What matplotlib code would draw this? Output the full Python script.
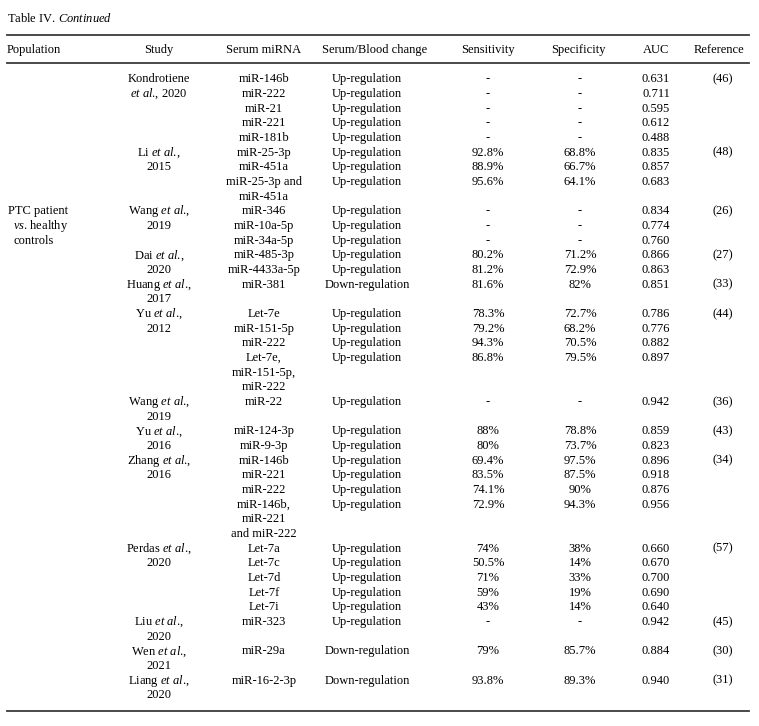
import matplotlib
matplotlib.use("Agg")
import matplotlib.pyplot as plt

plt.rcParams['font.family'] = ['Liberation Serif', 'DejaVu Serif']
plt.rcParams['mathtext.fontset'] = 'custom'
plt.rcParams['mathtext.rm'] = 'Liberation Serif'
plt.rcParams['mathtext.it'] = 'Liberation Serif:italic'

ET = r"$\mathit{et\ al}$."

title = r"Table IV. $\mathit{Continued}$"
headers = ["Population", "Study", "Serum miRNA", "Serum/Blood change",
           "Sensitivity", "Specificity", "AUC", "Reference"]
population = ["PTC patient", r"$\mathit{vs}$. healthy", "controls"]

studies = [
    "Kondrotiene\n" + ET + ", 2020",
    "Li " + ET + ",\n2015",
    "Wang " + ET + ",\n2019",
    "Dai " + ET + ",\n2020",
    "Huang " + ET + ",\n2017",
    "Yu " + ET + ",\n2012",
    "Wang " + ET + ",\n2019",
    "Yu " + ET + ",\n2016",
    "Zhang " + ET + ",\n2016",
    "Perdas " + ET + ",\n2020",
    "Liu " + ET + ",\n2020",
    "Wen " + ET + ",\n2021",
    "Liang " + ET + ",\n2020",
]
mirnas = [
    ["miR-146b", "miR-222", "miR-21", "miR-221", "miR-181b"],
    ["miR-25-3p", "miR-451a", "miR-25-3p and\nmiR-451a"],
    ["miR-346", "miR-10a-5p", "miR-34a-5p"],
    ["miR-485-3p", "miR-4433a-5p"],
    ["miR-381"],
    ["Let-7e", "miR-151-5p", "miR-222", "Let-7e,\nmiR-151-5p,\nmiR-222"],
    ["miR-22"],
    ["miR-124-3p", "miR-9-3p"],
    ["miR-146b", "miR-221", "miR-222", "miR-146b,\nmiR-221\nand miR-222"],
    ["Let-7a", "Let-7c", "Let-7d", "Let-7f", "Let-7i"],
    ["miR-323"],
    ["miR-29a"],
    ["miR-16-2-3p"],
]
changes = ["Up-regulation"] * 4 + ["Down-regulation"] + ["Up-regulation"] * 6 + \
          ["Down-regulation"] * 2
sensitivity = [
    ["-"] * 5, ["92.8%", "88.9%", "95.6%"], ["-"] * 3, ["80.2%", "81.2%"], ["81.6%"],
    ["78.3%", "79.2%", "94.3%", "86.8%"], ["-"], ["88%", "80%"],
    ["69.4%", "83.5%", "74.1%", "72.9%"], ["74%", "50.5%", "71%", "59%", "43%"],
    ["-"], ["79%"], ["93.8%"],
]
specificity = [
    ["-"] * 5, ["68.8%", "66.7%", "64.1%"], ["-"] * 3, ["71.2%", "72.9%"], ["82%"],
    ["72.7%", "68.2%", "70.5%", "79.5%"], ["-"], ["78.8%", "73.7%"],
    ["97.5%", "87.5%", "90%", "94.3%"], ["38%", "14%", "33%", "19%", "14%"],
    ["-"], ["85.7%"], ["89.3%"],
]
auc = [
    ["0.631", "0.711", "0.595", "0.612", "0.488"], ["0.835", "0.857", "0.683"],
    ["0.834", "0.774", "0.760"], ["0.866", "0.863"], ["0.851"],
    ["0.786", "0.776", "0.882", "0.897"], ["0.942"], ["0.859", "0.823"],
    ["0.896", "0.918", "0.876", "0.956"],
    ["0.660", "0.670", "0.700", "0.690", "0.640"], ["0.942"], ["0.884"], ["0.940"],
]
references = ["(46)", "(48)", "(26)", "(27)", "(33)", "(44)", "(36)", "(43)",
              "(34)", "(57)", "(45)", "(30)", "(31)"]

# ---- layout ----
W, H = 759, 726
fig = plt.figure(figsize=(W / 100, H / 100), dpi=100)
ax = fig.add_axes([0, 0, 1, 1])
ax.set_xlim(0, W)
ax.set_ylim(H, 0)
ax.axis('off')

FS = 9.0
Y0, DY = 78.0, 14.67
BASE = 4.2
col_x = {"study": 159, "mirna": 264, "change": 367, "sens": 488,
         "spec": 580, "auc": 656, "ref": 723}
head_x = [7, 159, 264, 375, 488, 578, 656, 719]
POP_LINE = 9

def put(x, line, s, ha='center'):
    for k, part in enumerate(s.split("\n")):
        ax.text(x, Y0 + (line + k) * DY + BASE, part, ha=ha, va='baseline',
                fontsize=FS, color='black')

ax.text(7, 18 + BASE, title, ha='left', va='baseline', fontsize=FS)
rule_kw = dict(color='#3a3a3a', lw=1.3)
ax.plot([7, 749], [35, 35], **rule_kw)
ax.plot([7, 749], [63, 63], **rule_kw)
ax.plot([7, 749], [711, 711], **rule_kw)

for i, h in enumerate(headers):
    ax.text(head_x[i], 49 + BASE, h, ha='left' if i == 0 else 'center',
            va='baseline', fontsize=FS)

put(8, POP_LINE, population[0], ha='left')
put(13, POP_LINE + 1, "\n".join(population[1:]), ha='left')

line = 0
for g in range(len(studies)):
    start = line
    put(col_x["study"], start, studies[g])
    put(col_x["ref"], start, references[g])
    for r, m in enumerate(mirnas[g]):
        put(col_x["mirna"], line, m)
        put(col_x["change"], line, changes[g])
        put(col_x["sens"], line, sensitivity[g][r])
        put(col_x["spec"], line, specificity[g][r])
        put(col_x["auc"], line, auc[g][r])
        line += m.count("\n") + 1
    line = max(line, start + studies[g].count("\n") + 1)

fig.savefig("out.png", dpi=100, facecolor='white')
